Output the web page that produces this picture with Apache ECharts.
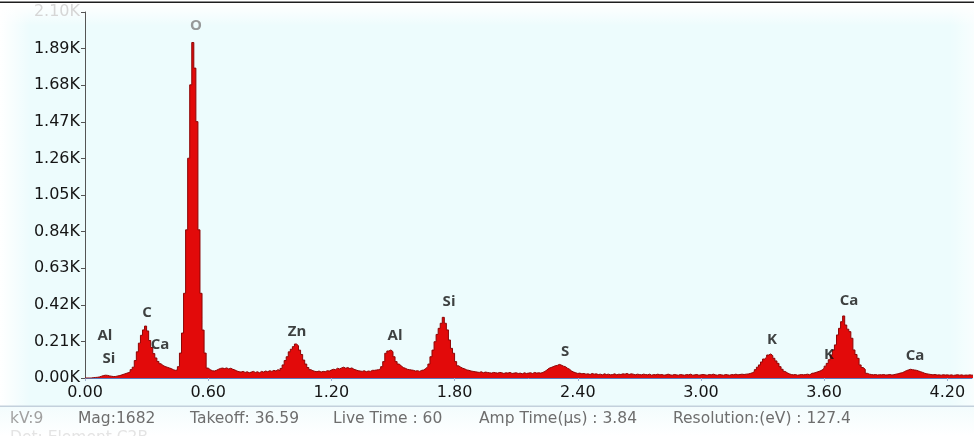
<!DOCTYPE html>
<html>
<head>
<meta charset="utf-8">
<script src="https://cdn.jsdelivr.net/npm/echarts@6/dist/echarts.min.js"></script>
<style>
  html, body { margin: 0; padding: 0; background: #ffffff; }
  #chart { width: 974px; height: 436px; }
</style>
</head>
<body>
<div id="chart"></div>
<script>
// EDS spectrum: counts per 10 eV channel, channel i covers [i*0.01, (i+1)*0.01) keV
const channelWidthKeV = 0.01;
const counts = [
  0,0,0,2,3,4,6,10,14,16,
  15,12,10,8,9,12,14,18,22,26,
  30,34,48,62,100,150,200,245,276,298,
  270,215,175,140,115,95,82,72,66,62,
  58,54,48,44,46,65,143,258,486,850,
  1261,1682,1925,1778,1471,850,486,275,143,57,
  48,42,40,44,50,55,57,54,58,52,
  56,50,46,40,36,34,38,32,36,30,
  34,38,32,36,30,38,34,40,36,42,
  38,44,40,48,42,55,75,100,122,150,
  165,180,195,185,160,135,103,80,60,48,
  42,38,36,40,34,38,36,42,40,46,
  50,48,56,52,58,62,56,60,54,58,
  50,46,42,40,38,42,36,40,38,44,
  44,46,48,52,65,94,142,155,161,151,
  122,94,80,70,60,56,50,48,46,44,
  40,42,38,44,46,55,65,80,122,160,
  208,250,285,314,348,314,276,218,170,142,
  94,70,62,56,52,46,44,40,38,36,
  34,32,36,30,34,32,30,28,32,30,
  28,32,30,26,30,28,32,26,28,30,
  26,28,24,30,26,28,30,26,32,28,
  30,28,32,38,46,56,60,65,70,72,
  78,74,68,65,56,50,40,34,30,26,
  28,24,26,22,24,20,26,22,24,20,
  22,18,24,20,22,18,20,24,18,22,
  20,24,22,26,20,24,22,18,22,20,
  18,22,20,18,22,16,20,18,22,18,
  20,16,18,22,18,16,20,18,16,20,
  18,16,20,18,22,16,18,20,16,18,
  20,18,16,20,18,22,18,16,20,18,
  16,20,18,16,20,18,22,18,20,22,
  20,22,23,26,30,36,48,62,75,92,
  109,120,132,138,128,113,98,84,65,50,
  38,30,24,20,18,20,16,18,20,18,
  20,22,18,27,28,32,36,40,46,56,
  68,84,105,132,160,190,247,285,323,356,
  304,280,266,228,161,135,113,75,60,50,
  27,22,20,18,20,17,19,18,20,17,
  18,20,17,19,22,24,28,30,36,42,
  46,50,48,46,44,40,36,32,27,24,
  22,20,18,20,17,18,16,19,17,18,
  16,18,15,17,19,16,18,15,17,16,
  18,16,17
];

// Peak identification labels (energy keV, counts where the label sits)
const peakNames    = ['O',   'C',   'Ca',  'Al',  'Si',  'Zn',  'Al',  'Si',  'S',   'K',   'K',   'Ca',  'Ca'];
const peakEnergies = [0.541, 0.302, 0.365, 0.097, 0.117, 1.033, 1.510, 1.773, 2.338, 3.346, 3.624, 3.721, 4.043];
const peakCounts   = [2020,  373,   189,   241,   109,   264,   241,   436,   149,   218,   132,   442,   126];

// Acquisition info footer
const footerTexts = ['kV:9', 'Mag:1682', 'Takeoff: 36.59', 'Live Time : 60', 'Amp Time(\u03bcs) : 3.84', 'Resolution:(eV) : 127.4'];
const footerX     = [10, 78, 190, 333, 479, 673];
const footerSub   = 'Det: Element C2B';

const xMax = 4.32;
const yMax = 2100;
const yInterval = 210;
const xInterval = 0.6;

const spectrum = counts.map((c, i) => [+(i * channelWidthKeV).toFixed(2), c]);
spectrum.push([+(counts.length * channelWidthKeV).toFixed(2), counts[counts.length - 1]]);

const chart = echarts.init(document.getElementById('chart'), null, { renderer: 'canvas' });

const footerFont = '15.5px "DejaVu Sans", sans-serif';
const graphics = [
  { type: 'rect', z: -100, silent: true, shape: { x: 0, y: 0, width: 974, height: 436 }, style: { fill: '#ffffff' } },
  { type: 'rect', z: -99, silent: true, shape: { x: 0, y: 4, width: 974, height: 402 }, style: { fill: '#edfcfd' } },
  { type: 'rect', z: -98, silent: true, shape: { x: 0, y: 4, width: 974, height: 22 },
    style: { fill: new echarts.graphic.LinearGradient(0, 0, 0, 1, [
      { offset: 0, color: 'rgba(255,255,255,1)' }, { offset: 1, color: 'rgba(255,255,255,0)' }]) } },
  { type: 'rect', z: -98, silent: true, shape: { x: 0, y: 4, width: 30, height: 402 },
    style: { fill: new echarts.graphic.LinearGradient(0, 0, 1, 0, [
      { offset: 0, color: 'rgba(255,255,255,1)' }, { offset: 1, color: 'rgba(255,255,255,0)' }]) } },
  { type: 'rect', z: -98, silent: true, shape: { x: 950, y: 4, width: 24, height: 402 },
    style: { fill: new echarts.graphic.LinearGradient(0, 0, 1, 0, [
      { offset: 0, color: 'rgba(255,255,255,0)' }, { offset: 1, color: 'rgba(255,255,255,0.6)' }]) } },
  { type: 'rect', z: -97, silent: true, shape: { x: 0, y: 407, width: 974, height: 29 },
    style: { fill: new echarts.graphic.LinearGradient(0, 0, 0, 1, [
      { offset: 0, color: '#f3fcfd' }, { offset: 1, color: '#ffffff' }]) } },
  { type: 'rect', z: -96, silent: true, shape: { x: 0, y: 405.5, width: 974, height: 1.5 }, style: { fill: '#c3d0dc' } },
  { type: 'rect', z: 50, silent: true, shape: { x: 0, y: 1.5, width: 974, height: 1.5 }, style: { fill: '#1e1e1e' } },
  { type: 'text', z: 50, silent: true, style: { x: 10, y: 438, text: footerSub, fill: '#e4e4e4',
      font: footerFont, textVerticalAlign: 'middle' } }
];
footerTexts.forEach((t, i) => {
  graphics.push({ type: 'text', z: 50, silent: true,
    style: { x: footerX[i], y: 419, text: t, fill: i === 0 ? '#a0a0a0' : '#6e6e6e',
      font: footerFont, textVerticalAlign: 'middle' } });
});

const labelData = peakNames.map((n, i) => ({
  name: n,
  value: [peakEnergies[i], peakCounts[i]],
  label: i === 0 ? { color: '#808080' } : undefined
}));

chart.setOption({
  animation: false,
  backgroundColor: 'transparent',
  graphic: graphics,
  grid: { left: 85, right: 2, top: 12, bottom: 58, containLabel: false },
  xAxis: {
    type: 'value', min: 0, max: xMax, interval: xInterval,
    axisLine: { show: true, lineStyle: { color: '#5a7cbf', width: 1 } },
    axisTick: { show: true, length: 3, lineStyle: { color: '#9fb2d2' } },
    splitLine: { show: false },
    axisLabel: {
      showMaxLabel: false, margin: 7,
      formatter: v => v.toFixed(2),
      fontFamily: 'DejaVu Sans', fontSize: 16, color: '#151515'
    }
  },
  yAxis: {
    type: 'value', min: 0, max: yMax, interval: yInterval,
    axisLine: { show: true, lineStyle: { color: '#555555', width: 1 } },
    axisTick: { show: true, length: 4, lineStyle: { color: '#555555' } },
    splitLine: { show: false },
    axisLabel: {
      margin: 5,
      formatter: v => (v / 1000).toFixed(2) + 'K',
      fontFamily: 'DejaVu Sans', fontSize: 16,
      color: v => (Number(v) >= yMax ? '#d6d6d6' : '#151515')
    }
  },
  series: [
    {
      type: 'line', step: 'end', symbol: 'none', sampling: null,
      data: spectrum,
      lineStyle: { color: '#8e0505', width: 1 },
      areaStyle: { color: '#e20a0a', opacity: 1 },
      z: 2
    },
    {
      type: 'scatter', symbolSize: 0, data: labelData, z: 5,
      label: {
        show: true, position: 'inside', formatter: p => p.name,
        fontFamily: '"Open Sans", sans-serif', fontWeight: 'bold', fontSize: 15, color: '#111111'
      }
    }
  ]
});
</script>
</body>
</html>
